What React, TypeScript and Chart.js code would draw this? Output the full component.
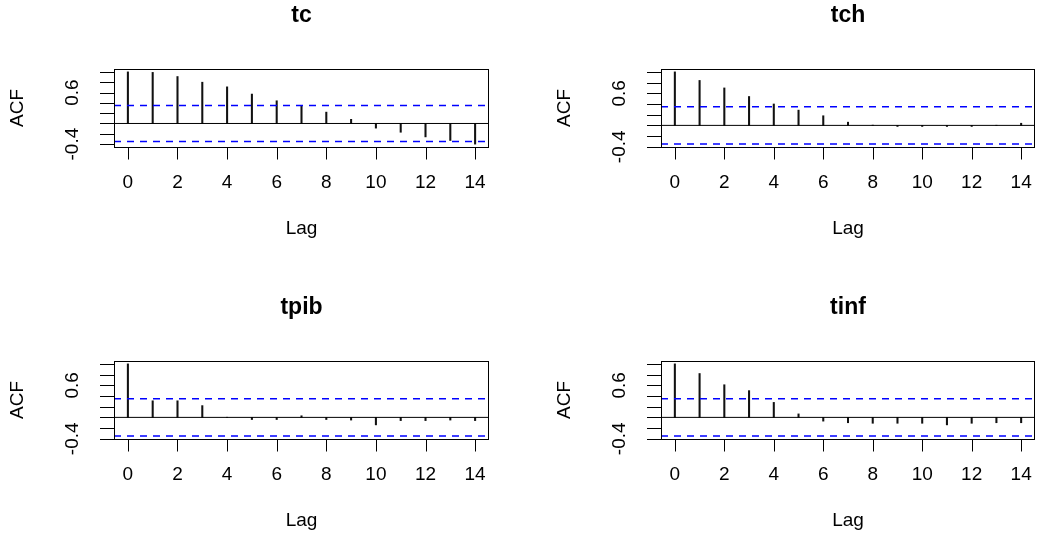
import React, { useEffect, useRef } from "react";
import { Chart, registerables } from "chart.js";

Chart.register(...registerables);

// ---- data ----
const LAGS = [0, 1, 2, 3, 4, 5, 6, 7, 8, 9, 10, 11, 12, 13, 14];
const TC = [1.0, 0.99, 0.91, 0.8, 0.71, 0.57, 0.44, 0.35, 0.22, 0.08, -0.09, -0.17, -0.26, -0.33, -0.4];
const TCH = [1.0, 0.84, 0.7, 0.54, 0.4, 0.285, 0.18, 0.06, 0.005, -0.02, -0.02, -0.02, -0.02, 0.003, 0.04];
const TPIB = [1.0, 0.31, 0.31, 0.22, 0.003, -0.04, -0.04, 0.03, -0.04, -0.05, -0.14, -0.06, -0.06, -0.05, -0.06];
const TINF = [1.0, 0.82, 0.61, 0.5, 0.28, 0.065, -0.07, -0.1, -0.11, -0.11, -0.11, -0.14, -0.11, -0.1, -0.1];
const TITLES = ["tc", "tch", "tpib", "tinf"];
const CLIM = 0.35;
const Y_TICKS = [-0.4, -0.2, 0, 0.2, 0.4, 0.6, 0.8, 1.0];
const Y_LABELS = ["-0.4", "0.6"];
const Y_LABEL_VALUES = [-0.4, 0.6];
const X_TICKS = [0, 2, 4, 6, 8, 10, 12, 14];
const X_TITLE = "Lag";
const Y_TITLE = "ACF";

const SERIES = [TC, TCH, TPIB, TINF];

// canvas rectangles (page coords) and plot-box padding inside each canvas
const PANELS = [
  { left: 0, top: 0, width: 519, height: 270, pad: { left: 114, right: 30, top: 69, bottom: 123 } },
  { left: 519, top: 0, width: 519, height: 270, pad: { left: 142, right: 3, top: 69, bottom: 123 } },
  { left: 0, top: 270, width: 519, height: 269, pad: { left: 114, right: 30, top: 91, bottom: 100 } },
  { left: 519, top: 270, width: 519, height: 269, pad: { left: 142, right: 3, top: 91, bottom: 100 } },
];

const FONT = "'Liberation Sans', Arial, Helvetica, sans-serif";

function makePlugin(title: string) {
  return {
    id: "rAxes",
    afterDraw(chart: any) {
      const { ctx, chartArea: a, scales } = chart;
      const x = scales.x;
      const y = scales.y;
      ctx.save();
      ctx.strokeStyle = "#000";
      ctx.fillStyle = "#000";
      ctx.lineWidth = 1;
      // box
      ctx.strokeRect(a.left + 0.5, a.top + 0.5, a.right - a.left - 1, a.bottom - a.top);
      // y ticks
      ctx.beginPath();
      for (const v of Y_TICKS) {
        if (v < y.min || v > y.max) continue;
        const py = Math.round(y.getPixelForValue(v)) + 0.5;
        ctx.moveTo(a.left + 0.5, py);
        ctx.lineTo(a.left - 14, py);
      }
      // x ticks
      for (const v of X_TICKS) {
        const px = Math.round(x.getPixelForValue(v)) + 0.5;
        ctx.moveTo(px, a.bottom + 0.5);
        ctx.lineTo(px, a.bottom + 12.5);
      }
      ctx.stroke();
      // x labels
      ctx.font = `19px ${FONT}`;
      ctx.textAlign = "center";
      ctx.textBaseline = "middle";
      for (const v of X_TICKS) {
        ctx.fillText(String(v), x.getPixelForValue(v), a.bottom + 36);
      }
      // y labels (rotated)
      Y_LABEL_VALUES.forEach((v, i) => {
        const py = y.getPixelForValue(v);
        ctx.save();
        ctx.translate(a.left - 41, py);
        ctx.rotate(-Math.PI / 2);
        ctx.fillText(Y_LABELS[i], 0, 0);
        ctx.restore();
      });
      // axis titles
      ctx.fillText(X_TITLE, (a.left + a.right) / 2, a.bottom + 82);
      ctx.save();
      ctx.translate(a.left - 96, (a.top + a.bottom) / 2);
      ctx.rotate(-Math.PI / 2);
      ctx.fillText(Y_TITLE, 0, 0);
      ctx.restore();
      // main title
      ctx.font = `bold 23px ${FONT}`;
      ctx.fillText(title, (a.left + a.right) / 2, a.top - 53);
      ctx.restore();
    },
  };
}

function Panel({ idx }: { idx: number }) {
  const ref = useRef<HTMLCanvasElement | null>(null);
  const p = PANELS[idx];
  useEffect(() => {
    if (!ref.current) return;
    const vals = SERIES[idx];
    const xmin0 = Math.min(...LAGS);
    const xmax0 = Math.max(...LAGS);
    const xpad = 0.04 * (xmax0 - xmin0);
    const xmin = xmin0 - xpad;
    const xmax = xmax0 + xpad;
    const ymin0 = Math.min(...vals, -CLIM);
    const ymax0 = Math.max(...vals, CLIM);
    const ypad = 0.04 * (ymax0 - ymin0);
    const chart = new Chart(ref.current, {
      type: "bar",
      data: {
        datasets: [
          {
            type: "bar",
            data: LAGS.map((l, i) => ({ x: l, y: vals[i] })),
            backgroundColor: "#111",
            barThickness: 1.4,
            order: 3,
          } as any,
          {
            type: "line",
            data: [
              { x: xmin, y: 0 },
              { x: xmax, y: 0 },
            ],
            borderColor: "#000",
            borderWidth: 1,
            pointRadius: 0,
            order: 2,
          },
          {
            type: "line",
            data: [
              { x: xmin, y: CLIM },
              { x: xmax, y: CLIM },
            ],
            borderColor: "#0000ff",
            borderWidth: 1.5,
            borderDash: [7, 6],
            pointRadius: 0,
            order: 1,
          },
          {
            type: "line",
            data: [
              { x: xmin, y: -CLIM },
              { x: xmax, y: -CLIM },
            ],
            borderColor: "#0000ff",
            borderWidth: 1.5,
            borderDash: [7, 6],
            pointRadius: 0,
            order: 1,
          },
        ],
      },
      options: {
        animation: false,
        responsive: false,
        maintainAspectRatio: false,
        devicePixelRatio: 1,
        layout: { padding: p.pad },
        plugins: { legend: { display: false }, tooltip: { enabled: false } },
        events: [],
        scales: {
          x: { type: "linear", min: xmin, max: xmax, display: false, offset: false, grid: { offset: false } },
          y: { type: "linear", min: ymin0 - ypad, max: ymax0 + ypad, display: false },
        },
      },
      plugins: [makePlugin(TITLES[idx])],
    } as any);
    return () => chart.destroy();
  }, [idx]);
  return (
    <canvas
      ref={ref}
      width={p.width}
      height={p.height}
      style={{ position: "absolute", left: p.left, top: p.top, width: p.width, height: p.height }}
    />
  );
}

export default function App() {
  return (
    <div style={{ position: "absolute", left: 0, top: 0, width: 1038, height: 539, background: "#fff" }}>
      {PANELS.map((_, i) => (
        <Panel key={i} idx={i} />
      ))}
    </div>
  );
}
